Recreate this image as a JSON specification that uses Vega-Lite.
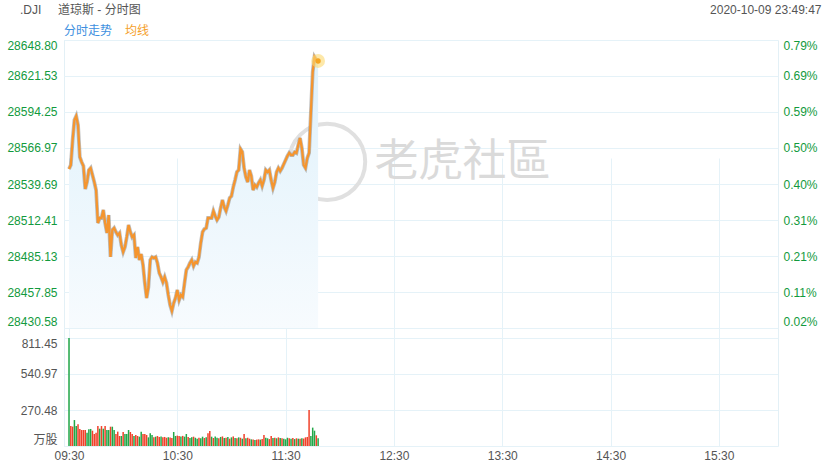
{
  "$schema": "https://vega.github.io/schema/vega-lite/v6.json",
  "width": 714,
  "height": 406,
  "autosize": {"type": "none"},
  "padding": {"left": 64, "top": 40, "right": 62, "bottom": 24},
  "background": "#ffffff",
  "title": {
    "text": ".DJI\u00a0\u00a0\u00a0\u00a0\u00a0道琼斯 - 分时图",
    "anchor": "start",
    "frame": "group",
    "orient": "top",
    "dx": -44,
    "dy": 13.5,
    "offset": 0,
    "fontSize": 12,
    "fontWeight": "normal",
    "color": "#555555",
    "font": "Liberation Sans, Noto Sans CJK SC"
  },
  "datasets": {
    "series": [
      {"time": "2020-10-09 09:30", "price": 28551.06, "vol": 811, "dir": "down"},
      {"time": "2020-10-09 09:31", "price": 28554.09, "vol": 150, "dir": "up"},
      {"time": "2020-10-09 09:32", "price": 28573.03, "vol": 146, "dir": "up"},
      {"time": "2020-10-09 09:33", "price": 28588.18, "vol": 195, "dir": "down"},
      {"time": "2020-10-09 09:34", "price": 28591.21, "vol": 150, "dir": "down"},
      {"time": "2020-10-09 09:35", "price": 28584.40, "vol": 163, "dir": "up"},
      {"time": "2020-10-09 09:36", "price": 28560.15, "vol": 128, "dir": "up"},
      {"time": "2020-10-09 09:37", "price": 28556.36, "vol": 120, "dir": "up"},
      {"time": "2020-10-09 09:38", "price": 28553.33, "vol": 120, "dir": "up"},
      {"time": "2020-10-09 09:39", "price": 28535.90, "vol": 120, "dir": "up"},
      {"time": "2020-10-09 09:40", "price": 28541.21, "vol": 100, "dir": "down"},
      {"time": "2020-10-09 09:41", "price": 28550.30, "vol": 125, "dir": "down"},
      {"time": "2020-10-09 09:42", "price": 28551.81, "vol": 128, "dir": "down"},
      {"time": "2020-10-09 09:43", "price": 28546.51, "vol": 115, "dir": "up"},
      {"time": "2020-10-09 09:44", "price": 28541.21, "vol": 90, "dir": "up"},
      {"time": "2020-10-09 09:45", "price": 28535.14, "vol": 100, "dir": "up"},
      {"time": "2020-10-09 09:46", "price": 28510.14, "vol": 150, "dir": "up"},
      {"time": "2020-10-09 09:47", "price": 28513.93, "vol": 130, "dir": "down"},
      {"time": "2020-10-09 09:48", "price": 28513.93, "vol": 150, "dir": "up"},
      {"time": "2020-10-09 09:49", "price": 28519.99, "vol": 130, "dir": "down"},
      {"time": "2020-10-09 09:50", "price": 28510.14, "vol": 150, "dir": "up"},
      {"time": "2020-10-09 09:51", "price": 28502.56, "vol": 120, "dir": "down"},
      {"time": "2020-10-09 09:52", "price": 28516.20, "vol": 120, "dir": "down"},
      {"time": "2020-10-09 09:53", "price": 28484.38, "vol": 145, "dir": "up"},
      {"time": "2020-10-09 09:54", "price": 28504.84, "vol": 145, "dir": "down"},
      {"time": "2020-10-09 09:55", "price": 28506.35, "vol": 120, "dir": "down"},
      {"time": "2020-10-09 09:56", "price": 28503.32, "vol": 90, "dir": "up"},
      {"time": "2020-10-09 09:57", "price": 28501.05, "vol": 108, "dir": "up"},
      {"time": "2020-10-09 09:58", "price": 28502.56, "vol": 75, "dir": "up"},
      {"time": "2020-10-09 09:59", "price": 28493.47, "vol": 75, "dir": "down"},
      {"time": "2020-10-09 10:00", "price": 28488.17, "vol": 105, "dir": "up"},
      {"time": "2020-10-09 10:01", "price": 28491.95, "vol": 90, "dir": "down"},
      {"time": "2020-10-09 10:02", "price": 28499.53, "vol": 90, "dir": "down"},
      {"time": "2020-10-09 10:03", "price": 28508.62, "vol": 120, "dir": "down"},
      {"time": "2020-10-09 10:04", "price": 28503.32, "vol": 105, "dir": "up"},
      {"time": "2020-10-09 10:05", "price": 28499.53, "vol": 90, "dir": "up"},
      {"time": "2020-10-09 10:06", "price": 28501.05, "vol": 75, "dir": "down"},
      {"time": "2020-10-09 10:07", "price": 28483.62, "vol": 83, "dir": "up"},
      {"time": "2020-10-09 10:08", "price": 28491.95, "vol": 75, "dir": "up"},
      {"time": "2020-10-09 10:09", "price": 28482.10, "vol": 70, "dir": "down"},
      {"time": "2020-10-09 10:10", "price": 28486.65, "vol": 108, "dir": "down"},
      {"time": "2020-10-09 10:11", "price": 28478.32, "vol": 90, "dir": "up"},
      {"time": "2020-10-09 10:12", "price": 28464.68, "vol": 90, "dir": "up"},
      {"time": "2020-10-09 10:13", "price": 28453.31, "vol": 83, "dir": "up"},
      {"time": "2020-10-09 10:14", "price": 28461.65, "vol": 65, "dir": "down"},
      {"time": "2020-10-09 10:15", "price": 28482.10, "vol": 95, "dir": "down"},
      {"time": "2020-10-09 10:16", "price": 28484.38, "vol": 83, "dir": "down"},
      {"time": "2020-10-09 10:17", "price": 28483.62, "vol": 65, "dir": "up"},
      {"time": "2020-10-09 10:18", "price": 28484.38, "vol": 70, "dir": "down"},
      {"time": "2020-10-09 10:19", "price": 28479.83, "vol": 75, "dir": "up"},
      {"time": "2020-10-09 10:20", "price": 28472.25, "vol": 68, "dir": "up"},
      {"time": "2020-10-09 10:21", "price": 28469.22, "vol": 72, "dir": "down"},
      {"time": "2020-10-09 10:22", "price": 28465.43, "vol": 65, "dir": "up"},
      {"time": "2020-10-09 10:23", "price": 28469.22, "vol": 68, "dir": "up"},
      {"time": "2020-10-09 10:24", "price": 28464.68, "vol": 62, "dir": "up"},
      {"time": "2020-10-09 10:25", "price": 28455.58, "vol": 66, "dir": "down"},
      {"time": "2020-10-09 10:26", "price": 28448.01, "vol": 64, "dir": "up"},
      {"time": "2020-10-09 10:27", "price": 28443.46, "vol": 60, "dir": "up"},
      {"time": "2020-10-09 10:28", "price": 28449.52, "vol": 105, "dir": "down"},
      {"time": "2020-10-09 10:29", "price": 28453.31, "vol": 75, "dir": "down"},
      {"time": "2020-10-09 10:30", "price": 28459.37, "vol": 78, "dir": "up"},
      {"time": "2020-10-09 10:31", "price": 28451.80, "vol": 76, "dir": "up"},
      {"time": "2020-10-09 10:32", "price": 28455.58, "vol": 72, "dir": "down"},
      {"time": "2020-10-09 10:33", "price": 28454.07, "vol": 76, "dir": "up"},
      {"time": "2020-10-09 10:34", "price": 28464.68, "vol": 70, "dir": "down"},
      {"time": "2020-10-09 10:35", "price": 28474.53, "vol": 90, "dir": "down"},
      {"time": "2020-10-09 10:36", "price": 28476.80, "vol": 68, "dir": "up"},
      {"time": "2020-10-09 10:37", "price": 28479.83, "vol": 60, "dir": "down"},
      {"time": "2020-10-09 10:38", "price": 28482.10, "vol": 66, "dir": "down"},
      {"time": "2020-10-09 10:39", "price": 28477.56, "vol": 70, "dir": "up"},
      {"time": "2020-10-09 10:40", "price": 28480.59, "vol": 62, "dir": "down"},
      {"time": "2020-10-09 10:41", "price": 28479.83, "vol": 55, "dir": "down"},
      {"time": "2020-10-09 10:42", "price": 28484.38, "vol": 62, "dir": "up"},
      {"time": "2020-10-09 10:43", "price": 28494.99, "vol": 58, "dir": "down"},
      {"time": "2020-10-09 10:44", "price": 28503.32, "vol": 70, "dir": "down"},
      {"time": "2020-10-09 10:45", "price": 28505.59, "vol": 60, "dir": "up"},
      {"time": "2020-10-09 10:46", "price": 28506.35, "vol": 65, "dir": "down"},
      {"time": "2020-10-09 10:47", "price": 28513.93, "vol": 95, "dir": "up"},
      {"time": "2020-10-09 10:48", "price": 28513.93, "vol": 112, "dir": "up"},
      {"time": "2020-10-09 10:49", "price": 28513.93, "vol": 70, "dir": "down"},
      {"time": "2020-10-09 10:50", "price": 28519.23, "vol": 60, "dir": "up"},
      {"time": "2020-10-09 10:51", "price": 28515.44, "vol": 72, "dir": "down"},
      {"time": "2020-10-09 10:52", "price": 28512.41, "vol": 62, "dir": "down"},
      {"time": "2020-10-09 10:53", "price": 28514.69, "vol": 58, "dir": "up"},
      {"time": "2020-10-09 10:54", "price": 28521.51, "vol": 68, "dir": "down"},
      {"time": "2020-10-09 10:55", "price": 28527.57, "vol": 72, "dir": "up"},
      {"time": "2020-10-09 10:56", "price": 28522.26, "vol": 60, "dir": "down"},
      {"time": "2020-10-09 10:57", "price": 28519.23, "vol": 62, "dir": "up"},
      {"time": "2020-10-09 10:58", "price": 28523.78, "vol": 68, "dir": "down"},
      {"time": "2020-10-09 10:59", "price": 28529.08, "vol": 55, "dir": "up"},
      {"time": "2020-10-09 11:00", "price": 28530.60, "vol": 65, "dir": "down"},
      {"time": "2020-10-09 11:01", "price": 28537.42, "vol": 72, "dir": "up"},
      {"time": "2020-10-09 11:02", "price": 28542.72, "vol": 60, "dir": "down"},
      {"time": "2020-10-09 11:03", "price": 28548.78, "vol": 58, "dir": "up"},
      {"time": "2020-10-09 11:04", "price": 28550.30, "vol": 65, "dir": "down"},
      {"time": "2020-10-09 11:05", "price": 28566.21, "vol": 62, "dir": "up"},
      {"time": "2020-10-09 11:06", "price": 28563.94, "vol": 55, "dir": "down"},
      {"time": "2020-10-09 11:07", "price": 28551.81, "vol": 90, "dir": "up"},
      {"time": "2020-10-09 11:08", "price": 28544.99, "vol": 58, "dir": "down"},
      {"time": "2020-10-09 11:09", "price": 28541.21, "vol": 62, "dir": "up"},
      {"time": "2020-10-09 11:10", "price": 28550.30, "vol": 55, "dir": "up"},
      {"time": "2020-10-09 11:11", "price": 28545.75, "vol": 50, "dir": "down"},
      {"time": "2020-10-09 11:12", "price": 28535.14, "vol": 48, "dir": "up"},
      {"time": "2020-10-09 11:13", "price": 28538.93, "vol": 45, "dir": "down"},
      {"time": "2020-10-09 11:14", "price": 28537.42, "vol": 48, "dir": "up"},
      {"time": "2020-10-09 11:15", "price": 28540.45, "vol": 50, "dir": "up"},
      {"time": "2020-10-09 11:16", "price": 28542.72, "vol": 48, "dir": "down"},
      {"time": "2020-10-09 11:17", "price": 28538.17, "vol": 52, "dir": "up"},
      {"time": "2020-10-09 11:18", "price": 28542.72, "vol": 82, "dir": "up"},
      {"time": "2020-10-09 11:19", "price": 28550.30, "vol": 62, "dir": "down"},
      {"time": "2020-10-09 11:20", "price": 28548.78, "vol": 58, "dir": "down"},
      {"time": "2020-10-09 11:21", "price": 28550.30, "vol": 52, "dir": "up"},
      {"time": "2020-10-09 11:22", "price": 28542.72, "vol": 75, "dir": "up"},
      {"time": "2020-10-09 11:23", "price": 28536.66, "vol": 60, "dir": "down"},
      {"time": "2020-10-09 11:24", "price": 28541.21, "vol": 62, "dir": "up"},
      {"time": "2020-10-09 11:25", "price": 28548.78, "vol": 58, "dir": "down"},
      {"time": "2020-10-09 11:26", "price": 28551.81, "vol": 65, "dir": "up"},
      {"time": "2020-10-09 11:27", "price": 28549.54, "vol": 60, "dir": "down"},
      {"time": "2020-10-09 11:28", "price": 28551.81, "vol": 58, "dir": "up"},
      {"time": "2020-10-09 11:29", "price": 28554.84, "vol": 55, "dir": "down"},
      {"time": "2020-10-09 11:30", "price": 28557.88, "vol": 50, "dir": "down"},
      {"time": "2020-10-09 11:31", "price": 28560.91, "vol": 62, "dir": "down"},
      {"time": "2020-10-09 11:32", "price": 28563.18, "vol": 58, "dir": "up"},
      {"time": "2020-10-09 11:33", "price": 28561.66, "vol": 55, "dir": "down"},
      {"time": "2020-10-09 11:34", "price": 28561.66, "vol": 60, "dir": "up"},
      {"time": "2020-10-09 11:35", "price": 28563.94, "vol": 52, "dir": "down"},
      {"time": "2020-10-09 11:36", "price": 28563.18, "vol": 58, "dir": "up"},
      {"time": "2020-10-09 11:37", "price": 28569.24, "vol": 55, "dir": "down"},
      {"time": "2020-10-09 11:38", "price": 28574.54, "vol": 55, "dir": "up"},
      {"time": "2020-10-09 11:39", "price": 28566.97, "vol": 58, "dir": "down"},
      {"time": "2020-10-09 11:40", "price": 28554.09, "vol": 56, "dir": "up"},
      {"time": "2020-10-09 11:41", "price": 28551.81, "vol": 65, "dir": "up"},
      {"time": "2020-10-09 11:42", "price": 28559.39, "vol": 68, "dir": "up"},
      {"time": "2020-10-09 11:43", "price": 28563.18, "vol": 270, "dir": "up"},
      {"time": "2020-10-09 11:44", "price": 28594.25, "vol": 75, "dir": "down"},
      {"time": "2020-10-09 11:45", "price": 28624.55, "vol": 138, "dir": "down"},
      {"time": "2020-10-09 11:46", "price": 28635.92, "vol": 115, "dir": "down"},
      {"time": "2020-10-09 11:47", "price": 28633.65, "vol": 80, "dir": "up"},
      {"time": "2020-10-09 11:48", "price": 28632.89, "vol": 58, "dir": "down"}
    ],
    "price_grid": [
      {"price": 28430.58}, {"price": 28457.85}, {"price": 28485.13}, {"price": 28512.41},
      {"price": 28539.69}, {"price": 28566.97}, {"price": 28594.25}, {"price": 28621.53}, {"price": 28648.80}
    ],
    "vol_grid": [
      {"vol": 0}, {"vol": 270.48}, {"vol": 540.97}, {"vol": 811.45}
    ],
    "watermark_text": [
      {"time": "2020-10-09 13:08", "price": 28555.6, "label": "老虎社區"}
    ],
    "watermark_logo": [
      {"time": "2020-10-09 11:53", "price": 28556.5}
    ]
  },
  "data": {"name": "series"},
  "layer": [
    {
      "data": {"name": "price_grid"},
      "mark": {"type": "rule", "color": "#e5f2f8", "strokeWidth": 1, "yOffset": 0.5},
      "encoding": {
        "y": {"field": "price", "type": "quantitative", "scale": {"domain": [28430.58, 28648.80], "range": [288, 0], "zero": false, "nice": false}, "axis": null}
      }
    },
    {
      "data": {"name": "vol_grid"},
      "mark": {"type": "rule", "color": "#e5f2f8", "strokeWidth": 1, "yOffset": 0.5},
      "encoding": {
        "y": {"field": "vol", "type": "quantitative", "scale": {"domain": [0, 811.45], "range": [406, 298], "nice": false}, "axis": null}
      }
    },
    {
      "encoding": {
        "x": {
          "field": "time",
          "type": "temporal",
          "scale": {
            "domain": [
              {"year": 2020, "month": 10, "date": 9, "hours": 9, "minutes": 30},
              {"year": 2020, "month": 10, "date": 9, "hours": 16, "minutes": 0}
            ]
          },
          "axis": {
            "values": [
              {"year": 2020, "month": 10, "date": 9, "hours": 9, "minutes": 30},
              {"year": 2020, "month": 10, "date": 9, "hours": 10, "minutes": 30},
              {"year": 2020, "month": 10, "date": 9, "hours": 11, "minutes": 30},
              {"year": 2020, "month": 10, "date": 9, "hours": 12, "minutes": 30},
              {"year": 2020, "month": 10, "date": 9, "hours": 13, "minutes": 30},
              {"year": 2020, "month": 10, "date": 9, "hours": 14, "minutes": 30},
              {"year": 2020, "month": 10, "date": 9, "hours": 15, "minutes": 30}
            ],
            "format": "%H:%M",
            "labelFlush": true,
            "grid": true,
            "ticks": false,
            "domain": false,
            "labelColor": "#555555",
            "labelPadding": 4,
            "title": null
          }
        }
      },
      "layer": [
        {
          "data": {"name": "watermark_logo"},
          "mark": {"type": "point", "shape": "circle", "filled": false, "size": 5800, "stroke": "#e0e0e0", "strokeWidth": 4, "opacity": 1},
          "encoding": {
            "y": {"field": "price", "type": "quantitative", "scale": {"domain": [28430.58, 28648.80], "range": [288, 0], "zero": false, "nice": false}, "axis": null}
          }
        },
        {
          "data": {"name": "watermark_text"},
          "mark": {"type": "text", "fontSize": 44, "font": "Noto Sans CJK TC", "color": "#dadada", "align": "center", "baseline": "middle"},
          "encoding": {
            "y": {"field": "price", "type": "quantitative", "scale": {"domain": [28430.58, 28648.80], "range": [288, 0], "zero": false, "nice": false}, "axis": null},
            "text": {"field": "label"}
          }
        },
        {
          "mark": {
            "type": "area",
            "color": {
              "gradient": "linear",
              "x1": 0, "y1": 0, "x2": 0, "y2": 1,
              "stops": [
                {"offset": 0, "color": "#dff1fb"},
                {"offset": 1, "color": "#f7fbfe"}
              ]
            },
            "opacity": 1
          },
          "encoding": {
            "y": {
              "field": "price",
              "type": "quantitative",
              "scale": {"domain": [28430.58, 28648.80], "range": [288, 0], "zero": false, "nice": false},
              "axis": {
                "orient": "left",
                "values": [28430.58, 28457.85, 28485.13, 28512.41, 28539.69, 28566.97, 28594.25, 28621.53, 28648.80],
                "format": ".2f",
                "labelFlush": true,
                "grid": false,
                "ticks": false,
                "domain": false,
                "labelColor": "#129a3d",
                "labelPadding": 7,
                "title": null
              }
            },
            "y2": {"datum": 28430.58}
          }
        },
        {
          "mark": {"type": "bar", "size": 1.5},
          "encoding": {
            "y": {
              "field": "vol",
              "type": "quantitative",
              "scale": {"domain": [0, 811.45], "range": [406, 298], "nice": false},
              "axis": {
                "orient": "left",
                "values": [0, 270.48, 540.97, 811.45],
                "labelExpr": "datum.value == 0 ? '万股' : format(datum.value, '.2f')",
                "labelFlush": true,
                "grid": false,
                "ticks": false,
                "domain": false,
                "labelColor": "#555555",
                "labelPadding": 7,
                "title": null
              }
            },
            "fill": {
              "field": "dir",
              "type": "nominal",
              "scale": {"domain": ["up", "down"], "range": ["#f0412a", "#22a748"]},
              "legend": null
            }
          }
        },
        {
          "mark": {"type": "line", "color": "#8a8a8a", "strokeWidth": 3.8, "opacity": 0.55, "interpolate": "linear"},
          "encoding": {
            "y": {"field": "price", "type": "quantitative", "scale": {"domain": [28430.58, 28648.80], "range": [288, 0], "zero": false, "nice": false}, "axis": null}
          }
        },
        {
          "mark": {"type": "line", "strokeWidth": 2.3, "interpolate": "linear"},
          "encoding": {
            "y": {
              "field": "price",
              "type": "quantitative",
              "scale": {"domain": [28430.58, 28648.80], "range": [288, 0], "zero": false, "nice": false},
              "axis": {
                "orient": "right",
                "values": [28430.58, 28457.85, 28485.13, 28512.41, 28539.69, 28566.97, 28594.25, 28621.53, 28648.80],
                "labelExpr": "format((datum.value / 28425.51 - 1) * 100, '.2f') + '%'",
                "labelFlush": true,
                "grid": false,
                "ticks": false,
                "domain": false,
                "labelColor": "#129a3d",
                "labelPadding": 5,
                "title": "2020-10-09 23:49:47",
                "titleAngle": 0,
                "titleAlign": "right",
                "titleBaseline": "alphabetic",
                "titleX": 43,
                "titleY": -27,
                "titleFontWeight": "normal",
                "titleFontSize": 12,
                "titleColor": "#555555",
                "titleFont": "Liberation Sans"
              }
            },
            "color": {
              "datum": "均线",
              "scale": {"domain": ["分时走势", "均线"], "range": ["#3d8fe0", "#f5952e"]},
              "legend": {
                "orient": "none",
                "legendX": -12,
                "legendY": -15,
                "direction": "horizontal",
                "title": null,
                "symbolSize": 0,
                "symbolOpacity": 0,
                "symbolStrokeWidth": 0,
                "labelOffset": 0,
                "columnPadding": 0,
                "padding": 0,
                "labelFontSize": 12,
                "labelFont": "Noto Sans CJK SC",
                "labelColor": {"expr": "datum.label == '均线' ? '#f5a02a' : '#3d8fe0'"}
              }
            }
          }
        },
        {
          "transform": [{"filter": "datum.price == 28632.89"}],
          "mark": {"type": "point", "shape": "circle", "filled": true, "size": 190, "color": "#fbd970", "opacity": 0.6},
          "encoding": {
            "y": {"field": "price", "type": "quantitative", "scale": {"domain": [28430.58, 28648.80], "range": [288, 0], "zero": false, "nice": false}, "axis": null}
          }
        },
        {
          "transform": [{"filter": "datum.price == 28632.89"}],
          "mark": {"type": "point", "shape": "circle", "filled": true, "size": 28, "color": "#f5a623", "opacity": 1},
          "encoding": {
            "y": {"field": "price", "type": "quantitative", "scale": {"domain": [28430.58, 28648.80], "range": [288, 0], "zero": false, "nice": false}, "axis": null}
          }
        }
      ],
      "resolve": {"scale": {"y": "independent"}, "axis": {"y": "independent"}}
    }
  ],
  "resolve": {"scale": {"y": "independent"}, "axis": {"y": "independent"}},
  "config": {
    "font": "Liberation Sans",
    "axis": {
      "labelFontSize": 12,
      "labelFont": "Liberation Sans, Noto Sans CJK SC",
      "gridColor": "#e5f2f8",
      "gridWidth": 1
    },
    "view": {"stroke": "#e3f0f6"}
  }
}
